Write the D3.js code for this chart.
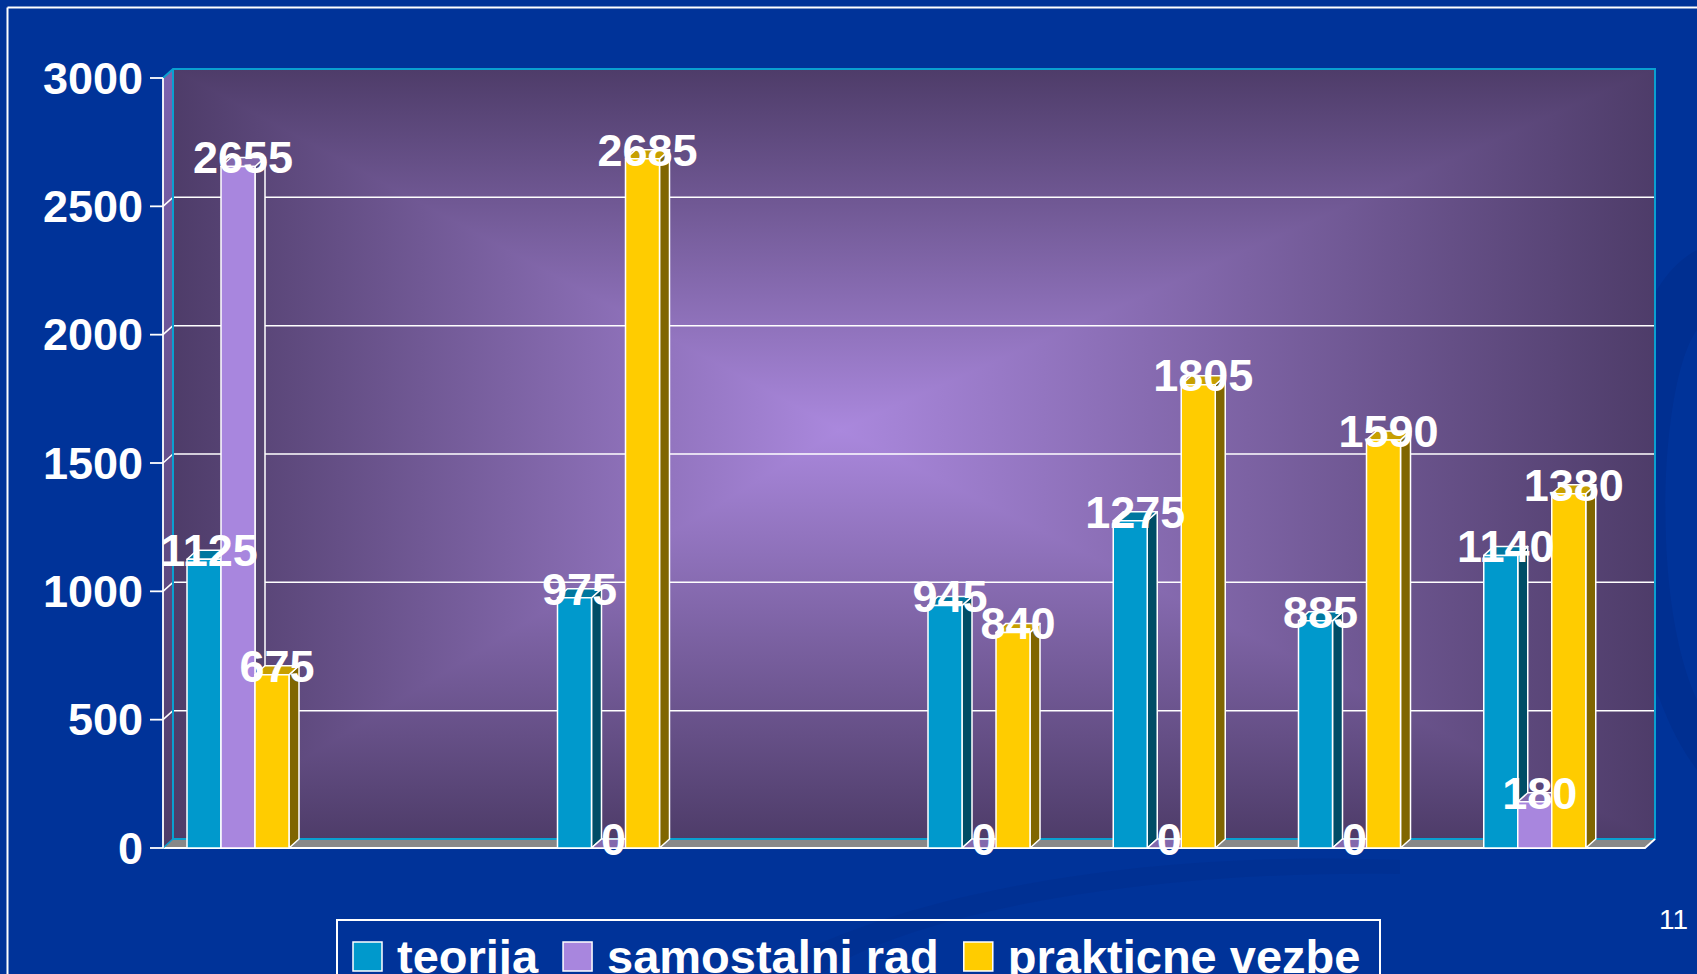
<!DOCTYPE html>
<html>
<head>
<meta charset="utf-8">
<script src="https://cdn.jsdelivr.net/npm/d3@7"></script>
<style>
  html, body { margin: 0; padding: 0; background: #003399; overflow: hidden; }
  svg { display: block; }
  text { font-family: "Liberation Sans", Arial, sans-serif; }
</style>
</head>
<body>
<svg id="chart" width="1697" height="974"></svg>
<script>
// ---------- data ----------
const categories = ["k1", "k2", "k3", "k4", "k5", "k6", "k7", "k8"]; // unlabeled category slots
const seriesNames = ["teorija", "samostalni rad", "prakticne vezbe"];
const teorija        = [1125, null,  975, null,  945, 1275,  885, 1140];
const samostalniRad  = [2655, null,    0, null,    0,    0,    0,  180];
const prakticneVezbe = [ 675, null, 2685, null,  840, 1805, 1590, 1380];
const yTicks = [0, 500, 1000, 1500, 2000, 2500, 3000];
const seriesColors = ["#0099CC", "#A886DE", "#FFCC00"];
const pageNumber = "11";

// ---------- layout ----------
const W = 1697, H = 974;
const DX = 10, DY = 9;          // 3D depth offset
const svg = d3.select("#chart");

const x = d3.scaleBand().domain(categories).range([163, 1645]).paddingInner(0).paddingOuter(0);
const x1 = d3.scaleBand().domain(seriesNames).range([24, 126]).padding(0);
const y = d3.scaleLinear().domain([0, 3000]).range([848, 78]);
const color = d3.scaleOrdinal().domain(seriesNames).range(seriesColors);

const seriesData = [teorija, samostalniRad, prakticneVezbe];

// background
svg.append("rect").attr("width", W).attr("height", H).attr("fill", "#003399");
// subtle template swooshes
svg.append("path")
  .attr("d", "M1697,250 C1600,300 1600,560 1660,700 C1675,740 1690,760 1697,770 L1697,700 C1650,600 1660,380 1697,330 Z")
  .attr("fill", "#002E8E").attr("opacity", 0.8);
svg.append("path")
  .attr("d", "M760,974 C900,890 1150,850 1400,860 L1400,874 C1150,870 920,910 820,974 Z")
  .attr("fill", "#002F8F").attr("opacity", 0.6);

// outer frame lines
svg.append("line").attr("x1", 7.5).attr("y1", 7.5).attr("x2", W).attr("y2", 7.5)
  .attr("stroke", "#fff").attr("stroke-width", 2);
svg.append("line").attr("x1", 7.5).attr("y1", 7.5).attr("x2", 7.5).attr("y2", H)
  .attr("stroke", "#fff").attr("stroke-width", 2);

// ---------- walls ----------
const X0 = x.range()[0], X1 = x.range()[1];
const wx0 = X0 + DX, wx1 = X1 + DX;
const wy0 = y(3000) - DY, wy1 = y(0) - DY;
const cx = 840, cy = 430;
const dark = "#4E3C69", light = "#AA88DD";

const defs = svg.append("defs");
const gh = defs.append("linearGradient").attr("id", "gh")
  .attr("gradientUnits", "userSpaceOnUse").attr("x1", wx0).attr("x2", wx1).attr("y1", 0).attr("y2", 0);
gh.append("stop").attr("offset", 0).attr("stop-color", dark);
gh.append("stop").attr("offset", (cx - wx0) / (wx1 - wx0)).attr("stop-color", light);
gh.append("stop").attr("offset", 1).attr("stop-color", dark);
const gv = defs.append("linearGradient").attr("id", "gv")
  .attr("gradientUnits", "userSpaceOnUse").attr("x1", 0).attr("x2", 0).attr("y1", wy0).attr("y2", wy1);
gv.append("stop").attr("offset", 0).attr("stop-color", dark);
gv.append("stop").attr("offset", (cy - wy0) / (wy1 - wy0)).attr("stop-color", light);
gv.append("stop").attr("offset", 1).attr("stop-color", dark);
const gl = defs.append("linearGradient").attr("id", "gl")
  .attr("x1", 0).attr("x2", 0).attr("y1", 0).attr("y2", 1);
gl.append("stop").attr("offset", 0).attr("stop-color", "#7C63AF");
gl.append("stop").attr("offset", 1).attr("stop-color", "#4E3C69");

// back wall (rectangular "from center" gradient)
svg.append("rect").attr("x", wx0).attr("y", wy0).attr("width", wx1 - wx0).attr("height", wy1 - wy0)
  .attr("fill", "url(#gh)");
svg.append("polygon").attr("points", [[wx0, wy0], [wx1, wy0], [cx, cy]].join(" ")).attr("fill", "url(#gv)");
svg.append("polygon").attr("points", [[wx0, wy1], [wx1, wy1], [cx, cy]].join(" ")).attr("fill", "url(#gv)");

// left wall
svg.append("polygon")
  .attr("points", [[X0, y(3000)], [wx0, wy0], [wx0, wy1], [X0, y(0)]].join(" "))
  .attr("fill", "url(#gl)");

// gridlines
const grid = svg.append("g");
yTicks.filter(t => t > 0 && t < 3000).forEach(t => {
  grid.append("line").attr("x1", wx0).attr("x2", wx1).attr("y1", y(t) - DY).attr("y2", y(t) - DY)
    .attr("stroke", "#fff").attr("stroke-width", 1.5);
  grid.append("line").attr("x1", X0).attr("x2", wx0).attr("y1", y(t)).attr("y2", y(t) - DY)
    .attr("stroke", "#fff").attr("stroke-width", 1.5);
});
// back wall border (cyan)
svg.append("path")
  .attr("d", `M${X0},${y(3000)} L${wx0},${wy0} L${wx1},${wy0} L${wx1},${wy1} L${wx0},${wy1} L${wx0},${wy0}`)
  .attr("fill", "none").attr("stroke", "#0AA0D0").attr("stroke-width", 2);

// floor
svg.append("polygon")
  .attr("points", [[X0, y(0)], [wx0, wy1], [wx1, wy1], [X1, y(0)]].join(" "))
  .attr("fill", "#888888");
svg.append("line").attr("x1", wx0).attr("x2", wx1).attr("y1", wy1).attr("y2", wy1)
  .attr("stroke", "#0AA0D0").attr("stroke-width", 2);
svg.append("path")
  .attr("d", `M${X0},${y(0)} L${X1},${y(0)} L${wx1},${wy1}`)
  .attr("fill", "none").attr("stroke", "#fff").attr("stroke-width", 1.8);
svg.append("line").attr("x1", X0).attr("x2", wx0).attr("y1", y(0)).attr("y2", wy1)
  .attr("stroke", "#0AA0D0").attr("stroke-width", 1.5);

// y axis
const axis = svg.append("g");
axis.append("line").attr("x1", X0).attr("x2", X0).attr("y1", y(3000)).attr("y2", y(0))
  .attr("stroke", "#fff").attr("stroke-width", 1.8);
yTicks.forEach(t => {
  axis.append("line").attr("x1", X0 - 13).attr("x2", X0).attr("y1", y(t)).attr("y2", y(t))
    .attr("stroke", "#fff").attr("stroke-width", 1.8);
  axis.append("text").attr("x", X0 - 20).attr("y", y(t)).attr("dy", "0.35em")
    .attr("text-anchor", "end").attr("fill", "#fff")
    .attr("font-size", 45).attr("font-weight", "bold").text(t);
});

// ---------- bars ----------
function shade(c, k) {
  const r = d3.rgb(c);
  return d3.rgb(r.r * k, r.g * k, r.b * k).formatHex();
}
const bars = svg.append("g");
const labels = [];
categories.forEach((cat, ci) => {
  seriesNames.forEach((s, si) => {
    const v = seriesData[si][ci];
    if (v === null || v === undefined) return;
    const bx = x(cat) + x1(s), bw = x1.bandwidth();
    const top = y(v), base = y(0);
    const c = color(s);
    const g = bars.append("g").attr("stroke", "#fff").attr("stroke-width", 1.5).attr("stroke-linejoin", "round");
    // side face
    g.append("polygon")
      .attr("points", [[bx + bw, top], [bx + bw + DX, top - DY], [bx + bw + DX, base - DY], [bx + bw, base]].join(" "))
      .attr("fill", shade(c, 0.5));
    // top face
    g.append("polygon")
      .attr("points", [[bx, top], [bx + DX, top - DY], [bx + bw + DX, top - DY], [bx + bw, top]].join(" "))
      .attr("fill", shade(c, 0.78));
    // front face
    g.append("rect").attr("x", bx).attr("y", top).attr("width", bw).attr("height", base - top)
      .attr("fill", c);
    labels.push({ x: bx + bw / 2 + DX / 2, y: top - DY, v });
  });
});

// data labels
svg.append("g").selectAll("text").data(labels).join("text")
  .attr("x", d => d.x).attr("y", d => d.y).attr("dy", "0.35em")
  .attr("text-anchor", "middle").attr("fill", "#fff")
  .attr("font-size", 45).attr("font-weight", "bold")
  .text(d => d.v);

// ---------- legend ----------
const legend = svg.append("g");
legend.append("rect").attr("x", 337).attr("y", 920).attr("width", 1043).attr("height", 90)
  .attr("fill", "none").attr("stroke", "#fff").attr("stroke-width", 2);
let lx = 353;
seriesNames.forEach((s, i) => {
  legend.append("rect").attr("x", lx).attr("y", 942).attr("width", 29).attr("height", 29)
    .attr("fill", color(s)).attr("stroke", "#fff").attr("stroke-width", 1.5);
  const t = legend.append("text").attr("x", lx + 44).attr("y", 973)
    .attr("fill", "#fff").attr("font-size", 47).attr("font-weight", "bold").text(s);
  lx = lx + 44 + t.node().getComputedTextLength() + 25;
});

// page number
svg.append("text").attr("x", 1688).attr("y", 929).attr("text-anchor", "end")
  .attr("fill", "#fff").attr("font-size", 28).text(pageNumber);
</script>
</body>
</html>
